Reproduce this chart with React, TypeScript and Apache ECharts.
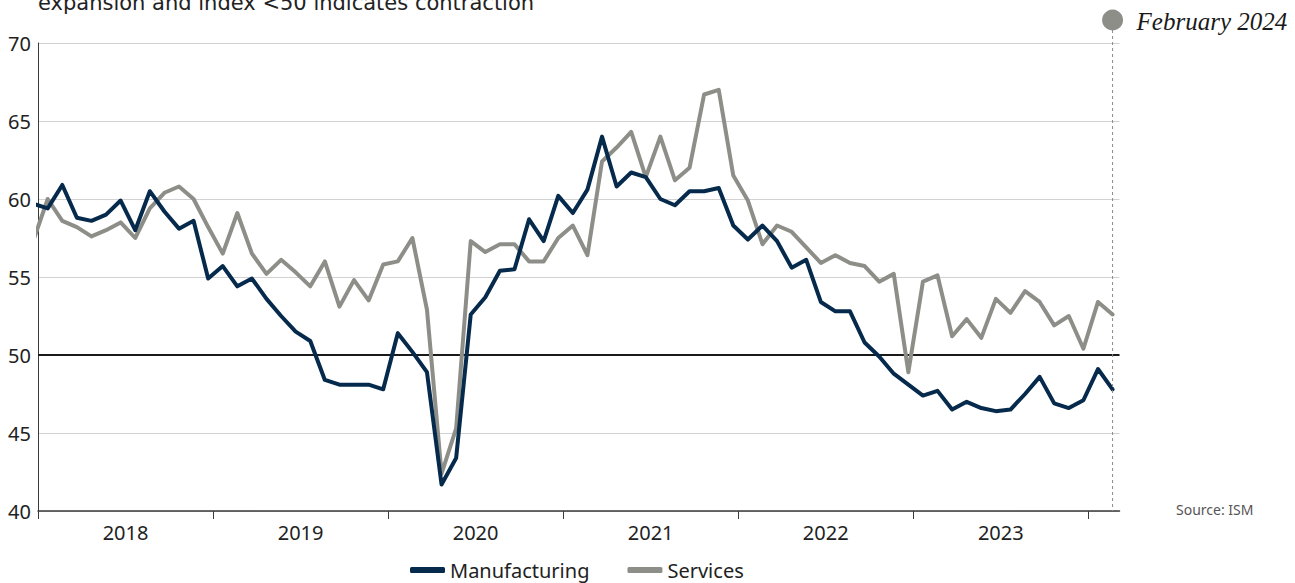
import React, { useEffect, useRef } from "react";
import * as echarts from "echarts";

// Monthly ISM PMI readings, Dec 2017 .. Feb 2024 (first value sits just left of the axis start)
const FIRST_MONTH = "2017-12";
const YEAR_LABELS = ["2018", "2019", "2020", "2021", "2022", "2023"];

const MANUFACTURING = [
  59.7,
  59.4, 60.9, 58.8, 58.6, 59.0, 59.9, 58.0, 60.5, 59.2, 58.1, 58.6, 54.9,
  55.7, 54.4, 54.9, 53.6, 52.5, 51.5, 50.9, 48.4, 48.1, 48.1, 48.1, 47.8,
  51.4, 50.2, 48.9, 41.7, 43.4, 52.6, 53.7, 55.4, 55.5, 58.7, 57.3, 60.2,
  59.1, 60.6, 64.0, 60.8, 61.7, 61.4, 60.0, 59.6, 60.5, 60.5, 60.7, 58.3,
  57.4, 58.3, 57.3, 55.6, 56.1, 53.4, 52.8, 52.8, 50.8, 49.9, 48.8, 48.1,
  47.4, 47.7, 46.5, 47.0, 46.6, 46.4, 46.5, 47.5, 48.6, 46.9, 46.6, 47.1,
  49.1, 47.8,
];

const SERVICES = [
  57.3,
  60.0, 58.6, 58.2, 57.6, 58.0, 58.5, 57.5, 59.4, 60.4, 60.8, 60.0, 58.2,
  56.5, 59.1, 56.5, 55.2, 56.1, 55.3, 54.4, 56.0, 53.1, 54.8, 53.5, 55.8,
  56.0, 57.5, 52.9, 42.4, 45.3, 57.3, 56.6, 57.1, 57.1, 56.0, 56.0, 57.5,
  58.3, 56.4, 62.4, 63.3, 64.3, 61.4, 64.0, 61.2, 62.0, 66.7, 67.0, 61.5,
  59.9, 57.1, 58.3, 57.9, 56.9, 55.9, 56.4, 55.9, 55.7, 54.7, 55.2, 48.9,
  54.7, 55.1, 51.2, 52.3, 51.1, 53.6, 52.7, 54.1, 53.4, 51.9, 52.5, 50.4,
  53.4, 52.6,
];

const Y_MIN = 40;
const Y_MAX = 70;
const Y_STEP = 5;
const THRESHOLD = 50;
const TITLE_TAIL = "expansion and index <50 indicates contraction";
const ANNOTATION = "February 2024";
const SOURCE = "Source: ISM";
const SERIES_NAMES = ["Manufacturing", "Services"];

// layout helpers (not data)
const MONTH_OFFSET = 0.665; // points sit ~2/3 month after year ticks
const X_MAX = 74.14;
const NAVY = "#062a4c";
const GREY = "#8e8e89";
const FONT = "'Noto Sans', sans-serif";

export default function App() {
  const ref = useRef<HTMLDivElement>(null);

  useEffect(() => {
    document.body.style.margin = "0";
    if (!ref.current) return;
    const chart = echarts.init(ref.current, null, { renderer: "svg" });
    void FIRST_MONTH;

    const toPts = (arr: number[]) => arr.map((v, i) => [i - 1 + MONTH_OFFSET, v]);
    const tickVals = YEAR_LABELS.map((_, i) => i * 12).concat([YEAR_LABELS.length * 12]);
    const labelVals = YEAR_LABELS.map((_, i) => i * 12 + 6);

    chart.setOption({
      animation: false,
      grid: { left: 38, right: 175.5, top: 43, bottom: 72, containLabel: false },
      xAxis: {
        type: "value",
        min: 0,
        max: X_MAX,
        axisLine: { show: true, lineStyle: { color: "#3a3a3a", width: 1.5 } },
        axisTick: {
          show: true,
          length: 8,
          customValues: tickVals,
          lineStyle: { color: "#3a3a3a", width: 1 },
        },
        axisLabel: {
          customValues: labelVals,
          formatter: (v: number) => YEAR_LABELS[Math.round((v - 6) / 12)] ?? "",
          fontFamily: FONT,
          fontSize: 20,
          color: "#222",
          margin: 11,
        },
        splitLine: { show: false },
      },
      yAxis: {
        type: "value",
        min: Y_MIN,
        max: Y_MAX,
        interval: Y_STEP,
        axisLine: { show: true, lineStyle: { color: "#3a3a3a", width: 1 } },
        axisTick: { show: false },
        axisLabel: { fontFamily: FONT, fontSize: 20, color: "#222", margin: 7 },
        splitLine: { show: true, lineStyle: { color: "#d2d2d2", width: 1 } },
      },
      legend: {
        data: SERIES_NAMES,
        left: 410,
        top: 560,
        padding: 0,
        icon: "roundRect",
        itemWidth: 35,
        itemHeight: 6,
        itemGap: 38,
        textStyle: { fontFamily: FONT, fontSize: 20, color: "#222" },
      },
      series: [
        {
          name: SERIES_NAMES[0],
          type: "line",
          data: toPts(MANUFACTURING),
          showSymbol: false,
          symbol: "none",
          z: 4,
          color: NAVY,
          lineStyle: { color: NAVY, width: 4, join: "round", cap: "round" },
          markLine: {
            silent: true,
            symbol: "none",
            label: { show: false },
            lineStyle: { color: "#1a1a1a", width: 2, type: "solid" },
            data: [{ yAxis: THRESHOLD }],
            z: 1,
          },
        },
        {
          name: SERIES_NAMES[1],
          type: "line",
          data: toPts(SERVICES),
          showSymbol: false,
          symbol: "none",
          z: 3,
          color: GREY,
          lineStyle: { color: GREY, width: 4, join: "round", cap: "round" },
        },
      ],
    });

    const lastX = MANUFACTURING.length - 2 + MONTH_OFFSET;
    const [px] = chart.convertToPixel({ xAxisIndex: 0, yAxisIndex: 0 }, [lastX, Y_MAX]) as number[];
    const [, pyBottom] = chart.convertToPixel({ xAxisIndex: 0, yAxisIndex: 0 }, [lastX, Y_MIN]) as number[];
    const [gx] = chart.convertToPixel({ xAxisIndex: 0, yAxisIndex: 0 }, [0, Y_MAX]) as number[];

    chart.setOption({
      graphic: [
        {
          type: "text",
          x: gx,
          y: 3,
          style: {
            text: TITLE_TAIL,
            fontFamily: "'DejaVu Sans', sans-serif",
            fontSize: 21,
            fill: "#222",
            verticalAlign: "middle",
          },
        },
        {
          type: "line",
          shape: { x1: px, y1: 30, x2: px, y2: pyBottom },
          style: { stroke: "#8a8a8a", lineWidth: 1, lineDash: [3, 3] },
          z: 10,
        },
        {
          type: "circle",
          shape: { cx: px, cy: 20, r: 10.5 },
          style: { fill: GREY },
          z: 11,
        },
        {
          type: "text",
          x: px + 24,
          y: 21,
          style: {
            text: ANNOTATION,
            fontFamily: "'Liberation Serif', serif",
            fontStyle: "italic",
            fontSize: 25,
            fill: "#1a1a1a",
            verticalAlign: "middle",
          },
        },
        {
          type: "text",
          x: 1176,
          y: 509,
          style: {
            text: SOURCE,
            fontFamily: FONT,
            fontSize: 14,
            fill: "#555",
            verticalAlign: "middle",
          },
        },
      ],
    });

    return () => chart.dispose();
  }, []);

  return <div ref={ref} style={{ width: 1295, height: 583 }} />;
}
